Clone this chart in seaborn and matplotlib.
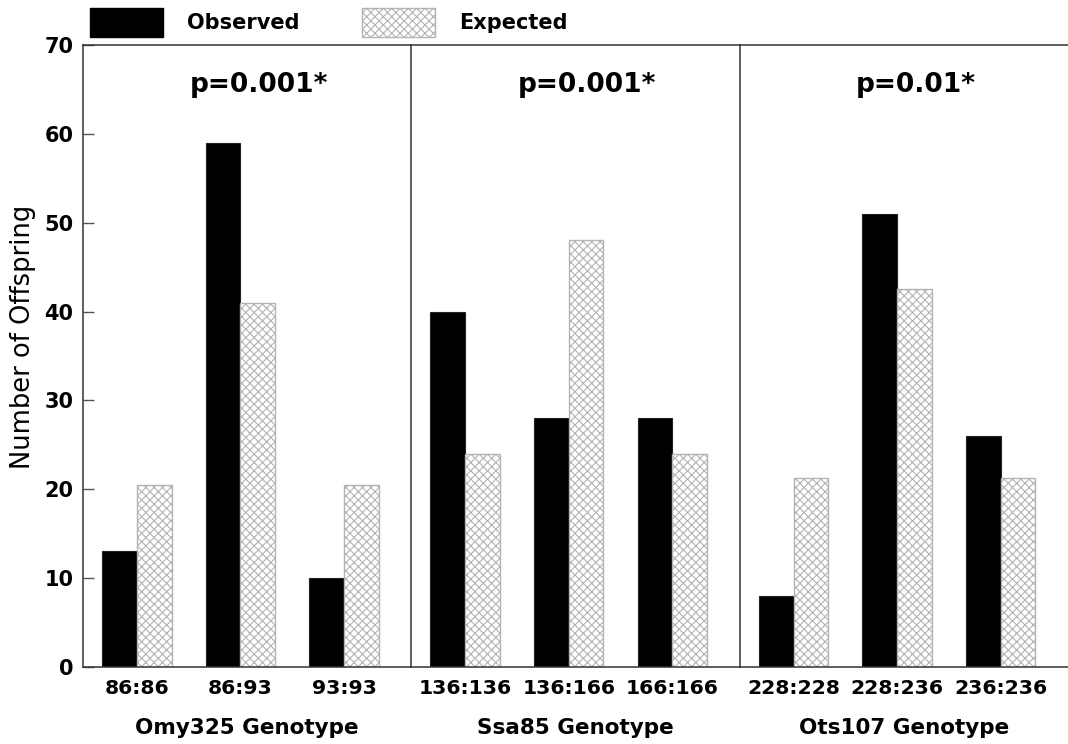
import matplotlib
matplotlib.use("Agg")
import matplotlib.pyplot as plt
import seaborn as sns
import pandas as pd
from matplotlib.patches import Patch

# ---- data ----
loci = ["Omy325 Genotype", "Ssa85 Genotype", "Ots107 Genotype"]
genotypes_omy = ["86:86", "86:93", "93:93"]
genotypes_ssa = ["136:136", "136:166", "166:166"]
genotypes_ots = ["228:228", "228:236", "236:236"]
observed_omy = [13, 59, 10]
expected_omy = [20.5, 41, 20.5]
observed_ssa = [40, 28, 28]
expected_ssa = [24, 48, 24]
observed_ots = [8, 51, 26]
expected_ots = [21.25, 42.5, 21.25]
pvalues = ["p=0.001*", "p=0.001*", "p=0.01*"]
series = ["Observed", "Expected"]
yticks = [0, 10, 20, 30, 40, 50, 60, 70]

panels = [
    (genotypes_omy, observed_omy, expected_omy),
    (genotypes_ssa, observed_ssa, expected_ssa),
    (genotypes_ots, observed_ots, expected_ots),
]

sns.set_theme(style="white")
plt.rcParams["font.family"] = ["DejaVu Sans"]
plt.rcParams["text.color"] = "black"
plt.rcParams["axes.labelcolor"] = "black"
plt.rcParams["xtick.color"] = "black"
plt.rcParams["ytick.color"] = "black"
plt.rcParams["hatch.linewidth"] = 0.8
plt.rcParams["hatch.color"] = "#b3b3b3"

fig, axes = plt.subplots(1, 3, sharey=True, figsize=(10.68, 7.44), dpi=100)
fig.subplots_adjust(left=83 / 1068, right=1.0, top=1 - 45 / 744,
                    bottom=1 - 667 / 744, wspace=0)

hatch_col = "#b3b3b3"
line_col = "#333333"

for i, (ax, (gts, obs, exp)) in enumerate(zip(axes, panels)):
    df = pd.DataFrame({
        "genotype": gts * 2,
        "count": obs + exp,
        "type": [series[0]] * 3 + [series[1]] * 3,
    })
    sns.barplot(data=df, x="genotype", y="count", hue="type",
                hue_order=series, palette=["black", "white"],
                width=0.67, ax=ax, legend=False, saturation=1)
    for p in ax.containers[0]:
        p.set_facecolor("black")
        p.set_edgecolor("#222222")
        p.set_linewidth(0.8)
    for p in ax.containers[1]:
        p.set_facecolor("white")
        p.set_edgecolor(hatch_col)
        p.set_hatch("xxxx")
        p.set_linewidth(1.0)
    ax.set_xlim(-0.52, 2.65)
    ax.set_ylim(0, 70)
    ax.set_xlabel(loci[i], fontsize=15.5, fontweight="bold", labelpad=14)
    ax.tick_params(axis="x", length=0, pad=9, labelsize=14.7)
    for lab in ax.get_xticklabels():
        lab.set_fontweight("bold")
    ax.text(1.18, 65.5, pvalues[i], ha="center", va="center",
            fontsize=19, fontweight="bold")
    for side in ["left", "top", "bottom", "right"]:
        ax.spines[side].set_color(line_col)
        ax.spines[side].set_linewidth(1.1)
    ax.spines["right"].set_visible(False)
    if i == 0:
        ax.set_yticks(yticks)
        ax.tick_params(axis="y", direction="in", length=8, width=1,
                       color="#555555", labelsize=15, left=True, pad=7)
        for lab in ax.get_yticklabels():
            lab.set_fontweight("bold")
        ax.set_ylabel("Number of Offspring", fontsize=18.5, labelpad=6, y=0.53)
    else:
        ax.tick_params(axis="y", left=False)
        ax.set_ylabel("")

handles = [
    Patch(facecolor="black", edgecolor="black", label="Observed"),
    Patch(facecolor="white", edgecolor=hatch_col, hatch="xxxx", label="Expected"),
]
fig.legend(handles=handles, loc="upper left",
           bbox_to_anchor=(90 / 1068, 1 - 8 / 744), ncol=2, frameon=False,
           prop={"size": 15, "weight": "bold"}, handlelength=3.5,
           handleheight=1.75, handletextpad=1.15, columnspacing=3.0,
           borderpad=0, borderaxespad=0)

fig.savefig("out.png", dpi=100)
